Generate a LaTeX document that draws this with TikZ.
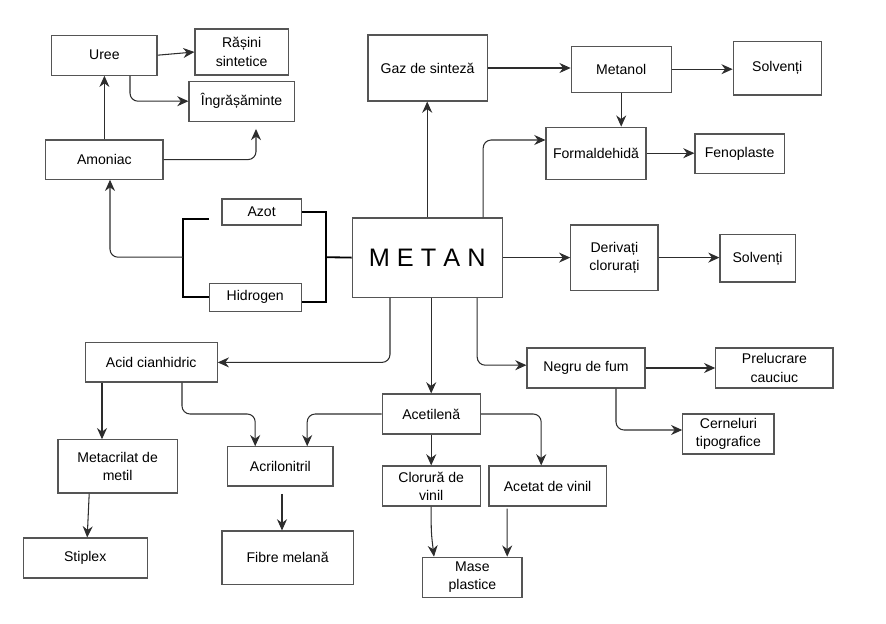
\documentclass[tikz,border=0pt]{standalone}
\usepackage{fontspec}
\setmainfont{Liberation Sans}
\usepackage{tikz}
\usetikzlibrary{positioning,arrows.meta}
\usepackage{xcolor}
\definecolor{schemaGray}{RGB}{85,85,85}
\definecolor{schemaLine}{RGB}{45,45,45}

\begin{document}
\begin{tikzpicture}[
    box/.style={draw=schemaGray, line width=0.8pt, align=center, inner sep=1pt, font=\fontsize{10}{13}\selectfont},
    arr/.style={draw=schemaLine, line width=0.75pt, -{Stealth[length=2.8mm,width=2.5mm]}, rounded corners=2mm},
    brace/.style={draw=black, line width=1.3pt}
  ]
  \useasboundingbox (0,0) rectangle (22.15,-15.6);
  % left part
  \node[box, minimum width=2.63cm, minimum height=1cm] (uree) at (2.61,-1.38) {Uree};
  \node[box, minimum width=2.33cm, minimum height=1.15cm] (rasini) at (6.04,-1.30) {Rășini\\sintetice};
  \node[box, minimum width=2.63cm, minimum height=1cm] (ingras) at (6.04,-2.53) {Îngrășăminte};
  \node[box, minimum width=2.93cm, minimum height=0.98cm] (amoniac) at (2.61,-3.99) {Amoniac};
  \node[box, minimum width=1.98cm, minimum height=0.65cm] (azot) at (6.54,-5.30) {Azot};
  \node[box, minimum width=2.3cm, minimum height=0.7cm] (hidrogen) at (6.38,-7.43) {Hidrogen};
  % centre
  \node[box, minimum width=3.75cm, minimum height=1.98cm, font=\fontsize{18}{20}\selectfont] (metan) at (10.68,-6.44) {M E T A N};
  \node[box, minimum width=2.98cm, minimum height=1.65cm] (gaz) at (10.69,-1.70) {Gaz de sinteză};
  % right part
  \node[box, minimum width=2.5cm, minimum height=1.15cm] (metanol) at (15.53,-1.73) {Metanol};
  \node[box, minimum width=2.2cm, minimum height=1.33cm] (solvA) at (19.43,-1.71) {Solvenți};
  \node[box, minimum width=2.5cm, minimum height=1.3cm] (formal) at (14.9,-3.83) {Formaldehidă};
  \node[box, minimum width=2.23cm, minimum height=0.98cm] (fenopl) at (18.49,-3.84) {Fenoplaste};
  \node[box, minimum width=2.18cm, minimum height=1.63cm] (deriv) at (15.36,-6.44) {Derivați\\clorurați};
  \node[box, minimum width=1.88cm, minimum height=1.18cm] (solvB) at (18.94,-6.46) {Solvenți};
  % lower part
  \node[box, minimum width=3.3cm, minimum height=0.98cm] (acid) at (3.78,-9.06) {Acid cianhidric};
  \node[box, minimum width=2.98cm, minimum height=1.33cm] (metacr) at (2.94,-11.66) {Metacrilat de\\metil};
  \node[box, minimum width=3.1cm, minimum height=1cm] (stiplex) at (2.13,-13.95) {Stiplex};
  \node[box, minimum width=2.63cm, minimum height=0.98cm] (acril) at (7.01,-11.66) {Acrilonitril};
  \node[box, minimum width=3.28cm, minimum height=1.33cm] (fibre) at (7.19,-13.94) {Fibre melană};
  \node[box, minimum width=2.45cm, minimum height=1cm] (acetil) at (10.78,-10.35) {Acetilenă};
  \node[box, minimum width=2.95cm, minimum height=1cm] (negru) at (14.65,-9.2) {Negru de fum};
  \node[box, minimum width=2.93cm, minimum height=1cm] (prelucr) at (19.36,-9.2) {Prelucrare\\cauciuc};
  \node[box, minimum width=2.28cm, minimum height=1cm] (cerneluri) at (18.21,-10.85) {Cerneluri\\tipografice};
  \node[box, minimum width=2.45cm, minimum height=1cm] (clorura) at (10.78,-12.15) {Clorură de\\vinil};
  \node[box, minimum width=2.93cm, minimum height=1cm] (acetat) at (13.69,-12.15) {Acetat de vinil};
  \node[box, minimum width=2.48cm, minimum height=1cm] (mase) at (11.81,-14.43) {Mase\\plastice};
  % bracket azot + hidrogen
  \coordinate (azotgap) at (5.22,-5.48);
  \coordinate (joinL) at (4.58,-6.43);
  \coordinate (joinR) at (8.15,-6.43);
  \draw[brace] (azotgap) -| (joinL) |- (hidrogen.west);
  \draw[brace] (azot.east) -| (joinR) |- ([yshift=-0.12cm]hidrogen.east);
  \draw[brace] (joinR) -- (metan.west);
  % connectors
  \draw[arr] (joinL) -| ([xshift=0.14cm]amoniac.south);
  \draw[arr] (amoniac.north) -- (uree.south);
  \draw[arr] (uree.east) -- (rasini.west);
  \draw[arr] ([xshift=0.64cm]uree.south) |- (ingras.west);
  \draw[arr] (amoniac.east) -| ([xshift=0.36cm,yshift=-0.18cm]ingras.south);
  \draw[arr] (metan.north) -- (metan.north |- gaz.south);
  \draw[arr] (gaz.east) -- (gaz.east -| metanol.west);
  \draw[arr] (metanol.east) -- (metanol.east -| solvA.west);
  \draw[arr] (metanol.south) -- (metanol.south |- formal.north);
  \draw[arr] ([xshift=1.4cm]metan.north) |- ([yshift=0.33cm]formal.west);
  \draw[arr] (formal.east) -- (formal.east -| fenopl.west);
  \draw[arr] (metan.east) -- (deriv.west);
  \draw[arr] (deriv.east) -- (deriv.east -| solvB.west);
  \draw[arr] ([xshift=-0.93cm]metan.south) |- (acid.east);
  \draw[arr] (metan.south -| acetil.north) -- (acetil.north);
  \draw[arr] ([xshift=1.25cm]metan.south) |- ([yshift=0.07cm]negru.west);
  \draw[arr] (negru.east) -- (prelucr.west);
  \draw[arr] ([xshift=0.75cm]negru.south) |- ([yshift=0.1cm]cerneluri.west);
  \draw[arr] ([xshift=-1.23cm]acid.south) -- ([xshift=-1.23cm]acid.south |- metacr.north);
  \draw[arr] ([xshift=0.77cm]acid.south) |- ([xshift=-0.63cm]acril.north |- acetil.west) -- ([xshift=-0.63cm]acril.north);
  \draw[arr] (acetil.west) -| ([xshift=0.67cm]acril.north);
  \draw[arr] ([xshift=-0.71cm]metacr.south) -- ([xshift=0.05cm]stiplex.north);
  \draw[arr] ([xshift=0.04cm,yshift=-0.18cm]acril.south) -- ([xshift=0.04cm]acril.south |- fibre.north);
  \draw[arr] (acetil.south) -- (clorura.north);
  \draw[arr] (acetil.east) -| ([xshift=-0.16cm]acetat.north);
  \draw[arr] (clorura.south) -- ++(0,-0.65) -- ([xshift=-0.96cm]mase.north);
  \draw[arr] ([xshift=-1.01cm,yshift=-0.05cm]acetat.south) -- ([xshift=0.87cm]mase.north);
\end{tikzpicture}
\end{document}
